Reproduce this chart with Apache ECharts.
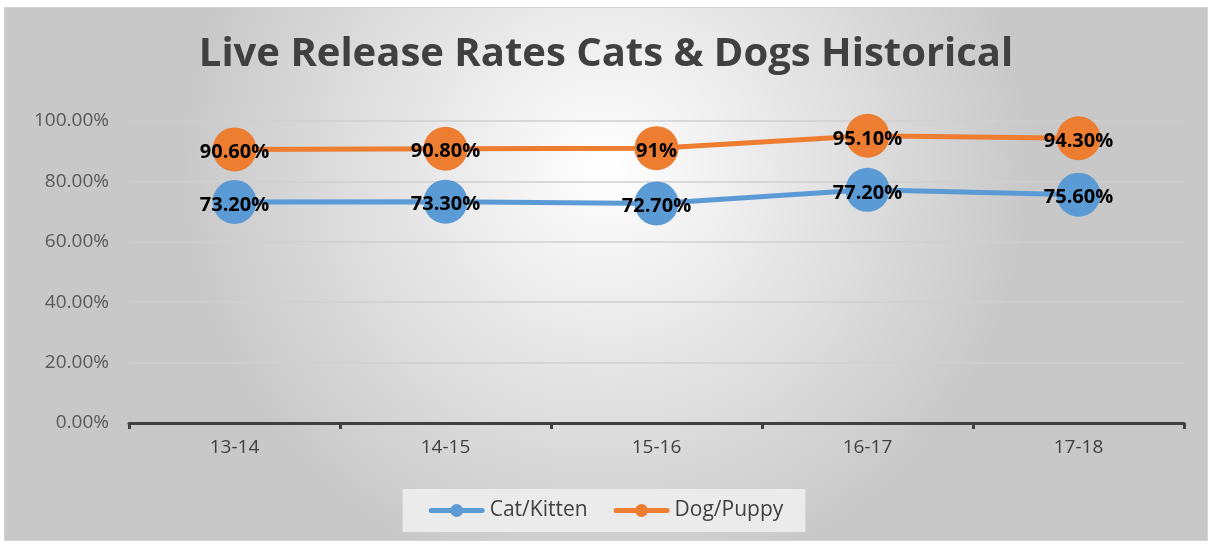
<!DOCTYPE html>
<html>
<head>
<meta charset="utf-8">
<script src="https://cdn.jsdelivr.net/npm/echarts@6/dist/echarts.min.js"></script>
<style>
  html, body { margin: 0; padding: 0; background: #ffffff; }
  #chart {
    position: absolute;
    left: 4px;
    top: 7px;
    width: 1204px;
    height: 534px;
    box-sizing: border-box;
    border: 1px solid #d4d4d4;
  }
</style>
</head>
<body>
<div id="chart"></div>
<script>
const seasons = ['13-14', '14-15', '15-16', '16-17', '17-18']
const catValues = [73.2, 73.3, 72.7, 77.2, 75.6]
const dogValues = [90.6, 90.8, 91, 95.1, 94.3]
const catLabels = ['73.20%', '73.30%', '72.70%', '77.20%', '75.60%']
const dogLabels = ['90.60%', '90.80%', '91%', '95.10%', '94.30%']

// 图例：粗线 + 圆点
const legendIcon = 'path://M2.5,4.5 L53.5,4.5 A2.5,2.5 0 0 1 53.5,9.5 L2.5,9.5 A2.5,2.5 0 0 1 2.5,4.5 Z ' +
  'M21.5,7 A6.5,6.5 0 1 1 34.5,7 A6.5,6.5 0 1 1 21.5,7 Z'

const chart = echarts.init(document.getElementById('chart'))

function makeSeries (name, values, labels, color) {
  return {
    name: name,
    type: 'line',
    data: values,
    symbol: 'circle',
    symbolSize: 44,
    lineStyle: { color: color, width: 5 },
    itemStyle: { color: color },
    label: {
      show: true,
      position: 'inside',
      offset: [0, 3],
      color: '#000000',
      fontWeight: 'bold',
      fontSize: 20,
      fontFamily: 'Open Sans, Noto Sans, sans-serif',
      formatter: function (p) { return labels[p.dataIndex] }
    },
    emphasis: { disabled: true }
  }
}

chart.setOption({
  animation: false,
  backgroundColor: new echarts.graphic.RadialGradient(0.5, 0.3, 0.8, [
    { offset: 0, color: '#ffffff' },
    { offset: 1, color: '#c8c8c8' }
  ]),
  textStyle: { fontFamily: 'Open Sans, Noto Sans, sans-serif' },
  title: {
    text: 'Live Release Rates Cats & Dogs Historical',
    left: 'center',
    top: 22,
    textStyle: {
      color: '#404040',
      fontSize: 40,
      fontWeight: 'bold',
      fontFamily: 'Open Sans, Noto Sans, sans-serif'
    }
  },
  grid: {
    left: 124,
    right: 23,
    top: 113,
    bottom: 117
  },
  legend: {
    bottom: 8,
    left: 'center',
    data: [
      { name: 'Cat/Kitten', icon: legendIcon },
      { name: 'Dog/Puppy', icon: legendIcon }
    ],
    itemWidth: 56,
    itemHeight: 14,
    itemGap: 26,
    padding: [11, 22, 11, 26],
    backgroundColor: '#ebebeb',
    textStyle: { color: '#404040', fontSize: 21 }
  },
  xAxis: {
    type: 'category',
    data: seasons,
    boundaryGap: true,
    axisLine: { lineStyle: { color: '#404040', width: 3 } },
    axisTick: { show: true, length: 6, lineStyle: { color: '#404040', width: 3 } },
    axisLabel: { color: '#404040', fontSize: 19, margin: 15 }
  },
  yAxis: {
    type: 'value',
    min: 0,
    max: 100,
    interval: 20,
    axisLine: { show: false },
    axisTick: { show: false },
    splitLine: { lineStyle: { color: '#cfcfcf', width: 1.5 } },
    axisLabel: {
      color: '#595959',
      fontSize: 19,
      margin: 20,
      formatter: function (v) { return v.toFixed(2) + '%' }
    }
  },
  series: [
    makeSeries('Cat/Kitten', catValues, catLabels, '#5b9bd5'),
    makeSeries('Dog/Puppy', dogValues, dogLabels, '#ed7d31')
  ]
})
</script>
</body>
</html>
